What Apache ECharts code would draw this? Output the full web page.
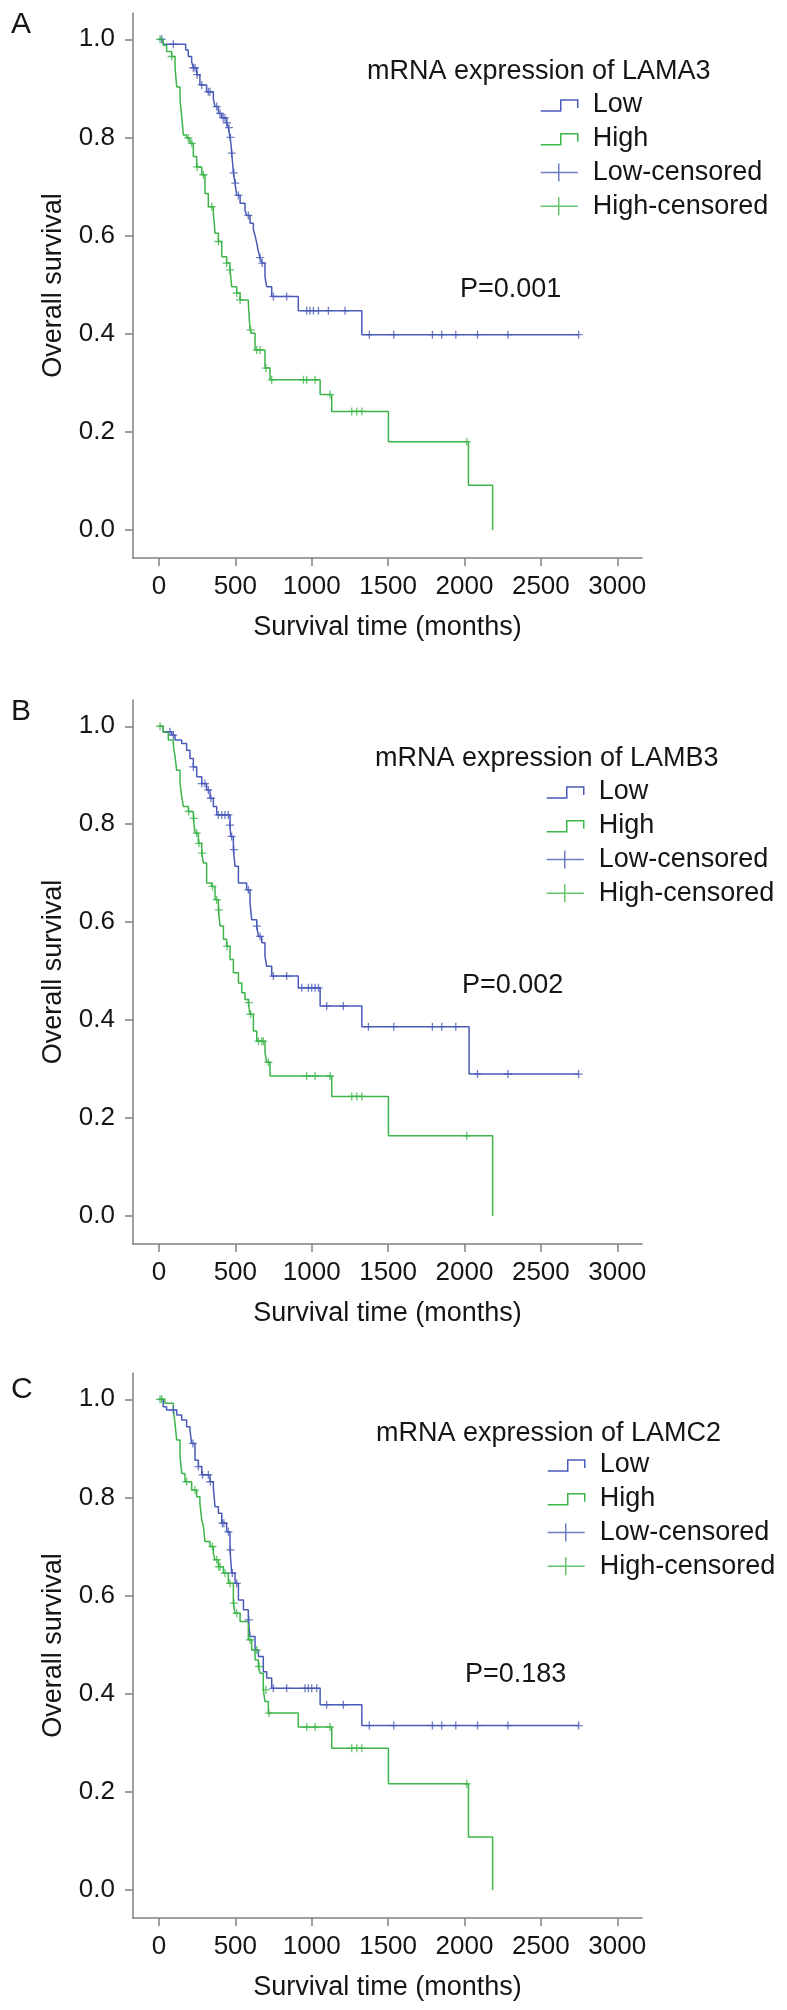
<!DOCTYPE html>
<html><head><meta charset="utf-8">
<script src="https://cdn.jsdelivr.net/npm/echarts@6/dist/echarts.min.js"></script>
<style>html,body{margin:0;padding:0;background:#fff}#c{width:787px;height:2010px}</style>
</head><body><div id="c"></div><script>
// ---------- data ----------
const xTicks = [0, 500, 1000, 1500, 2000, 2500, 3000];
const yTicks = [0, 0.2, 0.4, 0.6, 0.8, 1.0];
const panelLetters = ['A', 'B', 'C'];
const genes = ['LAMA3', 'LAMB3', 'LAMC2'];
const pValues = ['P=0.001', 'P=0.002', 'P=0.183'];
const groupNames = ['Low', 'High', 'Low-censored', 'High-censored'];
const xTitle = 'Survival time (months)';
const yTitle = 'Overall survival';

// Panel A (LAMA3)
const lowA = [[0,1],[28,0.99],[175,0.978],[192,0.965],[214,0.954],[225,0.942],[247,0.928],[268,0.907],[312,0.893],[356,0.878],[367,0.863],[389,0.849],[411,0.840],[443,0.830],[454,0.820],[465,0.800],[472,0.785],[476,0.768],[482,0.748],[487,0.728],[498,0.707],[509,0.682],[531,0.666],[563,0.652],[574,0.641],[596,0.625],[618,0.612],[629,0.600],[640,0.585],[651,0.567],[662,0.555],[673,0.544],[694,0.516],[705,0.496],[738,0.476],[912,0.447],[1328,0.398],[2747,0.398]];
const highA = [[0,1],[28,0.988],[50,0.975],[83,0.965],[105,0.944],[116,0.903],[138,0.876],[149,0.842],[160,0.805],[181,0.799],[203,0.788],[225,0.761],[247,0.740],[280,0.724],[301,0.686],[323,0.659],[356,0.646],[367,0.605],[389,0.588],[411,0.557],[443,0.544],[465,0.530],[476,0.496],[509,0.483],[531,0.469],[585,0.462],[596,0.408],[607,0.401],[629,0.367],[694,0.330],[727,0.306],[1055,0.276],[1131,0.2416],[1502,0.180],[2026,0.091],[2184,0]];
const lowCensA = [[18,1.0],[94,0.99],[225,0.942],[236,0.942],[250,0.928],[280,0.907],[323,0.893],[334,0.893],[378,0.863],[400,0.849],[420,0.840],[432,0.840],[443,0.830],[458,0.820],[468,0.800],[476,0.768],[490,0.728],[500,0.707],[520,0.682],[585,0.641],[662,0.555],[676,0.544],[749,0.476],[836,0.476],[967,0.447],[989,0.447],[1011,0.447],[1044,0.447],[1109,0.447],[1218,0.447],[1377,0.398],[1537,0.398],[1790,0.398],[1851,0.398],[1943,0.398],[2085,0.398],[2284,0.398],[2747,0.398]];
const highCensA = [[7,1.0],[83,0.965],[192,0.799],[215,0.788],[250,0.740],[291,0.724],[345,0.659],[389,0.588],[443,0.544],[465,0.530],[509,0.483],[531,0.469],[600,0.408],[640,0.367],[662,0.367],[700,0.330],[738,0.306],[946,0.306],[967,0.306],[1022,0.306],[1120,0.276],[1262,0.2416],[1295,0.2416],[1328,0.2416],[2015,0.180]];

// Panel B (LAMB3)
const lowB = [[0,1],[28,0.989],[83,0.982],[105,0.972],[149,0.965],[181,0.951],[203,0.934],[225,0.917],[247,0.897],[280,0.883],[312,0.870],[334,0.853],[356,0.836],[378,0.819],[465,0.798],[470,0.775],[487,0.748],[498,0.714],[520,0.680],[574,0.666],[596,0.639],[607,0.605],[640,0.592],[651,0.571],[673,0.558],[694,0.530],[705,0.510],[738,0.490],[912,0.466],[1055,0.4287],[1328,0.3867],[2030,0.29],[2747,0.29]];
const highB = [[0,1],[28,0.988],[61,0.972],[94,0.961],[105,0.938],[116,0.910],[138,0.883],[149,0.856],[160,0.836],[192,0.826],[225,0.812],[236,0.782],[258,0.761],[280,0.741],[291,0.721],[312,0.680],[345,0.673],[367,0.646],[389,0.625],[400,0.592],[422,0.565],[443,0.551],[465,0.524],[487,0.497],[520,0.476],[542,0.456],[563,0.442],[585,0.4356],[596,0.412],[618,0.378],[640,0.357],[694,0.334],[705,0.314],[727,0.286],[1131,0.2443],[1502,0.164],[2184,0]];
const lowCensB = [[72,0.989],[94,0.982],[225,0.917],[280,0.883],[301,0.883],[323,0.870],[340,0.853],[389,0.819],[411,0.819],[432,0.819],[454,0.819],[465,0.798],[476,0.775],[490,0.748],[585,0.666],[640,0.592],[662,0.571],[749,0.490],[836,0.490],[935,0.466],[978,0.466],[1000,0.466],[1022,0.466],[1044,0.466],[1098,0.4287],[1207,0.4287],[1371,0.3867],[1537,0.3867],[1790,0.3867],[1851,0.3867],[1943,0.3867],[2085,0.29],[2284,0.29],[2747,0.29]];
const highCensB = [[7,1.0],[195,0.826],[228,0.812],[247,0.782],[262,0.761],[282,0.741],[350,0.673],[378,0.646],[392,0.625],[446,0.551],[588,0.4356],[600,0.412],[651,0.357],[673,0.357],[683,0.357],[716,0.314],[967,0.286],[1022,0.286],[1120,0.286],[1262,0.2443],[1295,0.2443],[1328,0.2443],[2015,0.164]];

// Panel C (LAMC2)
const lowC = [[0,1],[28,0.985],[50,0.978],[116,0.968],[149,0.958],[181,0.944],[203,0.9375],[214,0.910],[236,0.876],[258,0.863],[280,0.846],[334,0.832],[356,0.819],[367,0.781],[389,0.768],[411,0.7475],[443,0.730],[465,0.693],[476,0.646],[498,0.625],[520,0.591],[553,0.571],[585,0.5505],[596,0.5165],[629,0.489],[651,0.476],[683,0.445],[705,0.432],[738,0.411],[1055,0.3774],[1328,0.3352],[2747,0.3352]];
const highC = [[0,1],[39,0.992],[94,0.978],[105,0.951],[116,0.917],[138,0.883],[149,0.849],[170,0.832],[214,0.815],[247,0.8016],[268,0.788],[280,0.754],[291,0.7405],[301,0.710],[334,0.700],[356,0.686],[367,0.673],[389,0.659],[422,0.646],[454,0.625],[487,0.5845],[498,0.564],[531,0.547],[585,0.510],[607,0.489],[629,0.469],[651,0.4555],[662,0.442],[683,0.408],[694,0.384],[716,0.3605],[912,0.332],[1131,0.289],[1502,0.2165],[2026,0.108],[2184,0]];
const lowCensC = [[94,0.978],[222,0.910],[258,0.863],[285,0.846],[323,0.846],[336,0.832],[415,0.7475],[425,0.7475],[454,0.730],[468,0.693],[480,0.646],[509,0.625],[588,0.5505],[749,0.411],[836,0.411],[956,0.411],[978,0.411],[1000,0.411],[1033,0.411],[1098,0.3774],[1207,0.3774],[1377,0.3352],[1537,0.3352],[1790,0.3352],[1851,0.3352],[1943,0.3352],[2085,0.3352],[2284,0.3352],[2747,0.3352]];
const highCensC = [[7,1.0],[18,1.0],[181,0.832],[236,0.815],[350,0.700],[378,0.673],[392,0.659],[400,0.659],[432,0.646],[465,0.625],[490,0.5845],[509,0.564],[596,0.510],[640,0.489],[655,0.4555],[700,0.408],[720,0.3605],[967,0.332],[1022,0.332],[1120,0.332],[1262,0.289],[1295,0.289],[1328,0.289],[2015,0.2165]];

const curveSets = [
  [lowA, highA, lowCensA, highCensA],
  [lowB, highB, lowCensB, highCensB],
  [lowC, highC, lowCensC, highCensC]
];

// ---------- layout / style ----------
const BLUE = '#4a5ab8', GREEN = '#3db54a', AXIS = '#808080', TEXT = '#151515';
const FONT = '"Liberation Sans", Arial, Helvetica, sans-serif';
const layout = [
  {top: 13,   h: 545, letterTop: 10,   headLeft: 367, headTop: 58,   legLeft: 540, legTop: 91.4,   pLeft: 460, pTop: 276},
  {top: 700,  h: 544, letterTop: 697,  headLeft: 375, headTop: 745,  legLeft: 546, legTop: 778.4,  pLeft: 462, pTop: 972},
  {top: 1373, h: 545, letterTop: 1375, headLeft: 376, headTop: 1420, legLeft: 547, legTop: 1451.4, pLeft: 465, pTop: 1661}
];
const GRID_LEFT = 133, GRID_W = 509;
const X_MIN = -170, X_MAX = 3162, Y_MIN = -0.057, Y_MAX = 1.0536;

const stepIcon = 'path://M0,0 M47,18 M0,15 L20,15 L20,4 L37,4 L37,12';
const censIcon = 'path://M0,0 M47,18 M0,9 L37,9 M18,0 L18,18';
const plusSymbol = 'path://M0,5 L10,5 M5,0 L5,10';
const colors = [BLUE, GREEN, BLUE, GREEN];

const grid = [], xAxis = [], yAxis = [], series = [], title = [], legend = [];
layout.forEach((L, i) => {
  grid.push({left: GRID_LEFT, top: L.top, width: GRID_W, height: L.h, containLabel: false});
  xAxis.push({
    type: 'value', gridIndex: i, min: X_MIN, max: X_MAX,
    axisLine: {show: true, onZero: false, lineStyle: {color: AXIS, width: 1.5}},
    axisTick: {show: true, inside: false, length: 8, customValues: xTicks, lineStyle: {color: AXIS, width: 1.5}},
    axisLabel: {customValues: xTicks, fontSize: 26, color: TEXT, margin: 16, fontFamily: FONT,
      formatter: v => String(Math.round(v))},
    splitLine: {show: false},
    name: xTitle, nameLocation: 'middle', nameGap: 56,
    nameTextStyle: {fontSize: 27, color: TEXT, fontFamily: FONT}
  });
  yAxis.push({
    type: 'value', gridIndex: i, min: Y_MIN, max: Y_MAX,
    axisLine: {show: true, onZero: false, lineStyle: {color: AXIS, width: 1.5}},
    axisTick: {show: true, inside: false, length: 8, customValues: yTicks, lineStyle: {color: AXIS, width: 1.5}},
    axisLabel: {customValues: yTicks, fontSize: 26, color: TEXT, margin: 18, fontFamily: FONT,
      formatter: v => Number(v).toFixed(1)},
    splitLine: {show: false},
    name: yTitle, nameLocation: 'middle', nameGap: 66,
    nameTextStyle: {fontSize: 27, color: TEXT, fontFamily: FONT}
  });
  const sets = curveSets[i];
  for (let k = 0; k < 2; k++) {
    series.push({
      name: groupNames[k], type: 'line', xAxisIndex: i, yAxisIndex: i,
      data: sets[k], step: 'end', showSymbol: false, symbol: 'none',
      lineStyle: {color: colors[k], width: 1.5}, itemStyle: {color: colors[k]},
      silent: true, z: 2
    });
  }
  for (let k = 2; k < 4; k++) {
    series.push({
      name: groupNames[k], type: 'scatter', xAxisIndex: i, yAxisIndex: i,
      data: sets[k], symbol: plusSymbol, symbolSize: 8,
      itemStyle: {color: 'rgba(0,0,0,0)', borderColor: colors[k], borderWidth: 1.3},
      silent: true, z: 3
    });
  }
  title.push({text: panelLetters[i], left: 11, top: L.letterTop, padding: 0,
    textStyle: {fontSize: 30, fontWeight: 'normal', color: TEXT, fontFamily: FONT}});
  title.push({text: 'mRNA expression of ' + genes[i], left: L.headLeft, top: L.headTop, padding: 0,
    textStyle: {fontSize: 27, fontWeight: 'normal', color: TEXT, fontFamily: FONT}});
  title.push({text: pValues[i], left: L.pLeft, top: L.pTop, padding: 0,
    textStyle: {fontSize: 27, fontWeight: 'normal', color: TEXT, fontFamily: FONT}});
  legend.push({
    orient: 'vertical', left: L.legLeft, top: L.legTop, padding: 0, itemGap: 6.8,
    itemWidth: 47, itemHeight: 18, selectedMode: false,
    textStyle: {fontSize: 27, color: TEXT, fontFamily: FONT},
    data: groupNames.map((n, k) => ({
      name: n, icon: k < 2 ? stepIcon : censIcon,
      itemStyle: {color: 'rgba(0,0,0,0)', borderColor: colors[k], borderWidth: 1.5}
    }))
  });
});

const chart = echarts.init(document.getElementById('c'), null, {renderer: 'canvas'});
chart.setOption({
  animation: false, backgroundColor: '#fff',
  textStyle: {fontFamily: FONT},
  grid, xAxis, yAxis, series, title, legend
});
</script></body></html>
